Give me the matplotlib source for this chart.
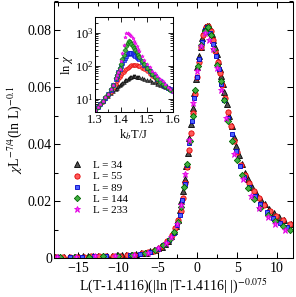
import numpy as np
import matplotlib
matplotlib.use("Agg")
import matplotlib.pyplot as plt
from matplotlib.ticker import MultipleLocator, LogLocator, NullFormatter

plt.rcParams['font.family'] = 'serif'
plt.rcParams['font.serif'] = ['Liberation Serif', 'DejaVu Serif']
plt.rcParams['mathtext.fontset'] = 'stix'

# scaled susceptibility, main panel
x34 = [-17.9, -17.3, -16.7, -16.1, -15.5, -14.9, -14.3, -13.7, -13.1, -12.5, -11.9, -11.3,
       -10.7, -10.1, -9.5, -8.9, -8.3, -7.7, -7.1, -6.5, -5.9, -5.4, -4.9, -4.5,
       -4.1, -3.7, -3.3, -3.0, -2.7, -2.45, -2.2, -2.0, -1.8, -1.6, -1.4, -1.2, -1.0, -0.8,
       -0.6, -0.4, -0.2, 0.0, 0.2, 0.4, 0.6, 0.8, 1.0, 1.2, 1.4, 1.6, 1.8, 2.0, 2.2, 2.4,
       2.6, 2.8, 3.0, 3.2, 3.4, 3.7, 4.0, 4.3, 4.6, 4.9, 5.2, 5.6, 6.0, 6.4, 6.9, 7.4,
       8.0, 8.5, 9.0, 9.6, 10.25, 10.9, 11.7]
y34 = [0.0004, 0.0004, 0.00045, 0.00045, 0.0005, 0.0005, 0.00055, 0.00055, 0.0006, 0.00065,
       0.0007, 0.00075, 0.0008, 0.0009, 0.0010, 0.0011, 0.0012, 0.0014, 0.0016, 0.0019,
       0.0023, 0.0028, 0.0034, 0.0040,
       0.0049, 0.0061, 0.0076, 0.0093, 0.0113, 0.0135, 0.0168, 0.0200, 0.0236, 0.0278,
       0.0323, 0.0370, 0.0420, 0.0470, 0.0525, 0.0578, 0.0628, 0.0670, 0.0708, 0.0742,
       0.0772, 0.0795, 0.0810, 0.0815, 0.0813, 0.0803, 0.0786, 0.0764, 0.0740, 0.0715,
       0.0690, 0.0664, 0.0638, 0.0610, 0.0582, 0.0540, 0.0500, 0.0462, 0.0424, 0.0392,
       0.0363, 0.0330, 0.0300, 0.0276, 0.0250, 0.0228, 0.0204, 0.0188, 0.0172, 0.0158,
       0.0145, 0.0133, 0.0120]

x55 = [-17.8, -16.9, -16.0, -15.1, -14.2, -13.3, -12.4, -11.5, -10.6, -9.7, -8.8, -7.9,
       -7.0, -6.2, -5.5, -4.9, -4.4, -3.8, -3.2, -2.75, -2.4, -2.1, -1.85, -1.6, -1.35,
       -1.1, -0.85, -0.6, -0.35, -0.1, 0.15, 0.45, 0.75, 1.05, 1.35, 1.65, 1.95, 2.25,
       2.55, 2.85, 3.15, 3.45, 3.8, 4.2, 4.6, 5.0, 5.5, 6.0, 6.5, 7.1, 7.7, 8.4, 9.1,
       9.9, 10.7, 11.6]
y55 = [0.0004, 0.0004, 0.00045, 0.00045, 0.0005, 0.00055, 0.0006, 0.0007, 0.00075, 0.00085,
       0.0010, 0.0012, 0.0016, 0.0020, 0.0026, 0.0033, 0.0042, 0.0058, 0.0080, 0.0104,
       0.0132, 0.0166, 0.0212, 0.0262, 0.0318, 0.0378, 0.0440, 0.0508, 0.0575, 0.0636,
       0.0688, 0.0742, 0.0784, 0.0809, 0.0815, 0.0798, 0.0765, 0.0728, 0.0688, 0.0648,
       0.0606, 0.0563, 0.0514, 0.0462, 0.0412, 0.0371, 0.0328, 0.0291, 0.0263, 0.0234,
       0.0211, 0.0185, 0.0165, 0.0147, 0.0132, 0.0118]

x89 = [-17.5, -16.0, -14.5, -13.0, -11.5, -10.0, -8.5, -7.2, -6.0, -5.0, -4.3, -3.6, -3.0,
       -2.55, -2.2, -1.9, -1.6, -1.3, -1.0, -0.7, -0.4, -0.1, 0.2, 0.55, 0.9, 1.25, 1.6,
       1.95, 2.3, 2.65, 3.0, 3.4, 3.85, 4.3, 4.8, 5.35, 5.9, 6.5, 7.2, 7.9, 8.7, 9.5,
       10.4, 11.3]
y89 = [0.0004, 0.00045, 0.0005, 0.0006, 0.0007, 0.0008, 0.0011, 0.0015, 0.0021, 0.0031,
       0.0044, 0.0062, 0.0088, 0.0117, 0.0152, 0.0202, 0.0260, 0.0328, 0.0402, 0.0480,
       0.0562, 0.0636, 0.0698, 0.0758, 0.0799, 0.0812, 0.0790, 0.0752, 0.0708, 0.0662,
       0.0612, 0.0555, 0.0492, 0.0434, 0.0375, 0.0324, 0.0283, 0.0249, 0.0217, 0.0191,
       0.0162, 0.0141, 0.0123, 0.0110]

x144 = [-17.2, -15.4, -13.6, -11.8, -10.0, -8.2, -6.6, -5.3, -4.3, -3.5, -2.9, -2.4, -2.0,
        -1.65, -1.3, -0.95, -0.6, -0.25, 0.1, 0.5, 0.9, 1.3, 1.7, 2.1, 2.5, 2.9, 3.35,
        3.85, 4.4, 5.0, 5.65, 6.35, 7.1, 7.9, 8.8, 9.7, 10.7, 11.6]
y144 = [0.0004, 0.00045, 0.0005, 0.0007, 0.0008, 0.0011, 0.0017, 0.0029, 0.0044, 0.0065,
        0.0090, 0.0127, 0.0178, 0.0250, 0.0330, 0.0412, 0.0498, 0.0588, 0.0672, 0.0748,
        0.0796, 0.0810, 0.0782, 0.0732, 0.0678, 0.0620, 0.0553, 0.0482, 0.0412, 0.0345,
        0.0290, 0.0245, 0.0208, 0.0177, 0.0150, 0.0129, 0.0111, 0.0097]

x233 = [-17.6, -15.2, -12.8, -10.4, -8.0, -6.2, -4.9, -4.0, -3.3, -2.6, -2.0, -1.5, -1.0,
        -0.5, 0.0, 0.5, 1.0, 1.5, 2.0, 2.5, 3.0, 3.6, 4.6, 5.7, 6.7, 7.75, 8.8, 9.8, 11.0]
y233 = [0.0004, 0.00045, 0.0006, 0.0008, 0.0011, 0.0019, 0.0034, 0.0052, 0.0075, 0.0118,
        0.0185, 0.0295, 0.0415, 0.0545, 0.0655, 0.0745, 0.0790, 0.0765, 0.0735, 0.0665,
        0.0590, 0.0490, 0.0365, 0.0277, 0.0218, 0.0174, 0.0143, 0.0119, 0.0100]

# raw susceptibility vs temperature, inset
T_in = [1.30, 1.31, 1.32, 1.33, 1.34, 1.35, 1.36, 1.37, 1.38, 1.385, 1.39, 1.395, 1.40,
        1.405, 1.41, 1.415, 1.42, 1.425, 1.43, 1.435, 1.44, 1.445, 1.45, 1.455, 1.46,
        1.465, 1.47, 1.48, 1.49, 1.50, 1.51, 1.52, 1.53, 1.54, 1.55, 1.56, 1.57, 1.58,
        1.59, 1.60]
chi34 = [5.0, 6.0, 7.3, 8.9, 10.6, 12.4, 14.8, 17.5, 20.5, 22.0, 24.0, 26.0, 28.5, 31.0,
         33.5, 36.0, 38.5, 41.0, 43.0, 45.0, 46.5, 47.5, 47.8, 47.5, 47.0, 46.3, 45.5,
         43.5, 41.0, 38.5, 36.0, 33.5, 31.3, 29.0, 27.0, 25.0, 23.3, 21.6, 20.0, 18.7]
chi55 = [4.6, 5.6, 6.8, 8.3, 10.3, 12.8, 16.0, 22.0, 29.0, 34.0, 39.5, 45.5, 52.0, 59.0,
         66.0, 74.0, 81.0, 88.0, 95.0, 101.0, 106.0, 108.0, 108.0, 106.5, 104.0, 100.5,
         97.0, 88.0, 78.0, 68.0, 58.0, 50.0, 43.0, 37.0, 32.0, 27.5, 24.0, 21.5, 19.5, 17.8]
chi89 = [4.5, 5.5, 6.8, 8.5, 10.8, 14.0, 18.5, 25.5, 40.0, 50.0, 63.0, 80.0, 100.0, 124.0,
         152.0, 178.0, 203.0, 222.0, 236.0, 241.0, 238.0, 230.0, 218.0, 205.0, 190.0,
         174.0, 158.0, 130.0, 104.0, 84.0, 69.0, 57.0, 47.5, 40.0, 34.0, 29.0, 25.0,
         21.7, 19.3, 17.4]
chi144 = [4.5, 5.5, 6.8, 8.6, 11.0, 14.5, 19.5, 27.0, 42.0, 52.0, 66.0, 85.0, 115.0, 160.0,
          215.0, 300.0, 400.0, 500.0, 545.0, 530.0, 470.0, 410.0, 350.0, 300.0, 255.0,
          218.0, 188.0, 142.0, 110.0, 87.0, 70.0, 57.0, 47.0, 39.5, 33.5, 28.5, 24.5,
          21.5, 19.0, 17.2]
chi233 = [4.5, 5.5, 6.8, 8.6, 11.0, 14.5, 19.5, 27.0, 42.0, 53.0, 66.0, 80.0, 140.0, 250.0,
          420.0, 750.0, 960.0, 990.0, 950.0, 870.0, 780.0, 680.0, 575.0, 480.0, 400.0,
          330.0, 275.0, 195.0, 145.0, 115.0, 90.0, 72.0, 59.0, 48.0, 40.0, 34.0, 28.5,
          23.5, 19.5, 16.5]

labels = ['L = 34', 'L = 55', 'L = 89', 'L = 144', 'L = 233']
main_x = [x34, x55, x89, x144, x233]
main_y = [y34, y55, y89, y144, y233]
inset_chi = [chi34, chi55, chi89, chi144, chi233]

# marker, face colour, edge colour
styles = [('^', '#505050', '#000000'),
          ('o', '#ff5a5a', '#e00000'),
          ('s', '#4a62ff', '#0000c8'),
          ('D', '#40b040', '#006400'),
          ('*', '#ff30ff', '#e000e0')]
msizes = [3.8, 3.8, 3.5, 3.2, 4.8]

fig = plt.figure(figsize=(2.96, 2.97), dpi=100)
ax = fig.add_axes([54 / 296, 39 / 297, 239 / 296, 256.5 / 297])

for xs, ys, lab, (mk, fc, ec), ms in zip(main_x, main_y, labels, styles, msizes):
    ax.plot(xs, ys, linestyle='none', marker=mk, markersize=ms,
            markerfacecolor=fc, markeredgecolor=ec, markeredgewidth=0.6, label=lab)

ax.set_xlim(-18, 12)
ax.set_ylim(0, 0.09)
ax.xaxis.set_major_locator(MultipleLocator(5))
ax.xaxis.set_minor_locator(MultipleLocator(2.5))
ax.yaxis.set_major_locator(MultipleLocator(0.02))
ax.yaxis.set_minor_locator(MultipleLocator(0.01))
ax.set_yticks([0, 0.02, 0.04, 0.06, 0.08])
ax.set_yticklabels(['0', '0.02', '0.04', '0.06', '0.08'])
ax.tick_params(which='both', direction='in', top=True, right=True, width=0.75, labelsize=10)
ax.tick_params(which='major', length=4.5)
ax.tick_params(which='minor', length=3)
ax.tick_params(axis='y', pad=1.5)
ax.tick_params(axis='x', pad=3)
for sp in ax.spines.values():
    sp.set_linewidth(0.75)

ax.set_xlabel(r'L(T-1.4116)(|ln |T-1.4116| |)$^{-0.075}$', fontsize=10, labelpad=1)
ax.set_ylabel(r'$\chi$L$^{-7/4}$(ln L)$^{-0.1}$', fontsize=10, labelpad=3)

ax.legend(loc='upper left', bbox_to_anchor=(0.073, 0.38), frameon=False, fontsize=8,
          handlelength=1.0, handletextpad=0.9, labelspacing=0.12, borderpad=0,
          borderaxespad=0, numpoints=1)

# inset
axin = fig.add_axes([95 / 296, 185 / 297, 78 / 296, 95 / 297])
for chi, (mk, fc, ec) in zip(inset_chi, styles):
    axin.plot(T_in, chi, linestyle='none', marker=mk, markersize=2.6,
              markerfacecolor=fc, markeredgecolor=ec, markeredgewidth=0.4)
axin.set_yscale('log')
axin.set_xlim(1.3, 1.6)
axin.set_ylim(4, 3000)
axin.xaxis.set_major_locator(MultipleLocator(0.1))
axin.xaxis.set_minor_locator(MultipleLocator(0.05))
axin.yaxis.set_major_locator(LogLocator(base=10))
axin.yaxis.set_minor_locator(LogLocator(base=10, subs=np.arange(2, 10)))
axin.yaxis.set_minor_formatter(NullFormatter())
axin.tick_params(which='both', direction='in', top=True, right=True, width=0.6, labelsize=9)
axin.tick_params(which='major', length=3.5)
axin.tick_params(which='minor', length=2)
axin.tick_params(axis='y', pad=1)
axin.tick_params(axis='x', pad=1.5)
for sp in axin.spines.values():
    sp.set_linewidth(0.75)
axin.set_xlabel(r'k$_b$T/J', fontsize=9, labelpad=0.5)
axin.set_ylabel(r'ln $\chi$', fontsize=9, labelpad=0)

fig.savefig('out.png', dpi=100)
